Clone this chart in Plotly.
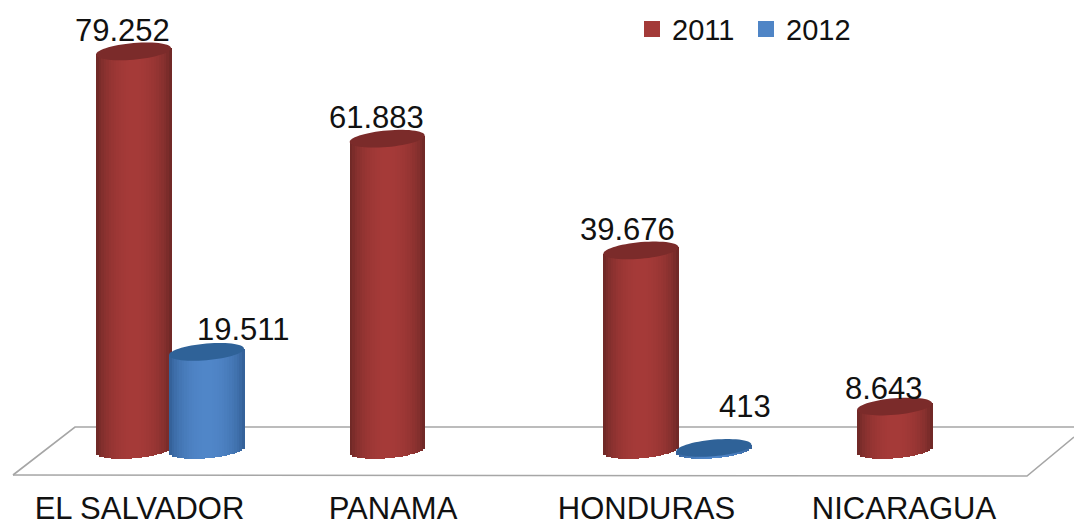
import math
import plotly.graph_objects as go

categories = ["EL SALVADOR", "PANAMA", "HONDURAS", "NICARAGUA"]
series_names = ["2011", "2012"]
values_2011 = [79252, 61883, 39676, 8643]
values_2012 = [19511, None, 413, None]

W, H = 1074, 523
AXIS_PX = 487          # pixel row of the plot's bottom edge
BASE_PX = 450          # pixel row of value 0
UNITS_PER_PX = 198.8
PX_PER_CAT = 253.7
FIRST_CAT_PX = 133.5
TICK_LABEL_PX = [139.5, 393, 646.5, 904]
idx = list(range(len(categories)))

BAR_W = 75 / PX_PER_CAT
BLUE_SHIFT = 73 / PX_PER_CAT
RX, RY, TILT = 37.5, 8.3, 3.2   # ellipse half-width, half-height, rise at right end (px)
N = 30

def mix(a, b, t):
    return "rgb(%d,%d,%d)" % tuple(round(a[i] + (b[i] - a[i]) * t) for i in range(3))

styles = {
    "2011": dict(edge=(104, 38, 36), mid=(165, 58, 56), top="#7b2b2a", legend="#a33a38", shift=0),
    "2012": dict(edge=(48, 92, 146), mid=(80, 134, 200), top="#2f6298", legend="#4f85c6", shift=BLUE_SHIFT),
}

fig = go.Figure()

def add_series(name, values):
    st = styles[name]
    xs = [i + st["shift"] for i in idx if values[i] is not None]
    vs = [v for v in values if v is not None]
    for k in range(N):
        u0 = -1 + 2 * k / N
        u1 = -1 + 2 * (k + 1) / N
        u = (u0 + u1) / 2
        shade = math.sqrt(max(0, 1 - u * u)) ** 1.4
        low = (-TILT * u + RY * math.sqrt(max(0, 1 - u * u))) * UNITS_PER_PX
        rise = TILT * u * UNITS_PER_PX
        fig.add_trace(go.Bar(
            x=xs,
            y=[v + rise + low for v in vs],
            base=[-low] * len(vs),
            width=(u1 - u0) * BAR_W / 2 + 0.5 / PX_PER_CAT,
            offset=u0 * BAR_W / 2,
            marker=dict(color=mix(st["edge"], st["mid"], shade), line=dict(width=0)),
            showlegend=False, hoverinfo="skip",
        ))
    # top caps
    for x, v in zip(xs, vs):
        pts = []
        for a in range(0, 360, 6):
            t = math.radians(a)
            c, s = math.cos(t), math.sin(t)
            pts.append((x + c * BAR_W / 2, v + (TILT * c + RY * s) * UNITS_PER_PX))
        path = "M" + "L".join(f"{px:.4f},{py:.1f}" for px, py in pts) + "Z"
        fig.add_shape(type="path", xref="x", yref="y", path=path,
                      fillcolor=st["top"], line=dict(width=0))
    # legend entry
    fig.add_trace(go.Scatter(x=[None], y=[None], mode="markers", name=name,
                             marker=dict(symbol="square", size=16, color=st["legend"])))

add_series("2011", values_2011)
add_series("2012", values_2012)

def fmt(v):
    return f"{v:,}".replace(",", ".")

label_offsets_2011 = [(-11, 21), (-11, 21), (-13, 21), (-11, 18)]
label_offsets_2012 = [(37, 22), None, (31, 41), None]
FONT = "Liberation Sans, Arial, sans-serif"
for vals, offs, st in ((values_2011, label_offsets_2011, styles["2011"]),
                       (values_2012, label_offsets_2012, styles["2012"])):
    for i, v in enumerate(vals):
        if v is None:
            continue
        fig.add_annotation(x=i + st["shift"], y=v, text=fmt(v), showarrow=False,
                           xshift=offs[i][0], yshift=offs[i][1], xanchor="center", yanchor="middle",
                           font=dict(family=FONT, size=31, color="#111111"))

# floor of the 3D chart, in paper fractions
def px(x): return x / W
def py(y): return 1 - y / AXIS_PX
floor = [(13, 475), (1027, 476), (1074, 437)]
floor_back = [(1074, 427), (75, 427), (13, 475)]
for seg in (floor, floor_back):
    fig.add_shape(type="path", xref="paper", yref="paper", layer="below",
                  path="M" + "L".join(f"{px(a):.5f},{py(b):.5f}" for a, b in seg),
                  line=dict(color="#a6a6a6", width=1.6))

fig.update_layout(
    width=W, height=H,
    margin=dict(l=0, r=0, t=0, b=H - AXIS_PX, autoexpand=False),
    paper_bgcolor="white", plot_bgcolor="white",
    barmode="overlay", bargap=0,
    font=dict(family=FONT, size=29, color="#111111"),
    xaxis=dict(
        range=[-FIRST_CAT_PX / PX_PER_CAT, (W - FIRST_CAT_PX) / PX_PER_CAT],
        tickmode="array",
        tickvals=[(p - FIRST_CAT_PX) / PX_PER_CAT for p in TICK_LABEL_PX],
        ticktext=categories,
        ticks="", showgrid=False, zeroline=False, showline=False,
        tickfont=dict(family=FONT, size=31, color="#111111"),
    ),
    yaxis=dict(
        range=[-(AXIS_PX - BASE_PX) * UNITS_PER_PX, BASE_PX * UNITS_PER_PX],
        visible=False,
    ),
    legend=dict(
        orientation="h", x=632 / W, y=1 - 4 / H, xanchor="left", yanchor="top",
        font=dict(family=FONT, size=29, color="#111111"),
        bgcolor="rgba(0,0,0,0)", entrywidth=69, entrywidthmode="pixels", itemclick=False,
    ),
    showlegend=True,
)
fig.write_html("out.html", config={"displayModeBar": False},
               post_script="document.body.style.margin='0';document.body.style.overflow='hidden';")
